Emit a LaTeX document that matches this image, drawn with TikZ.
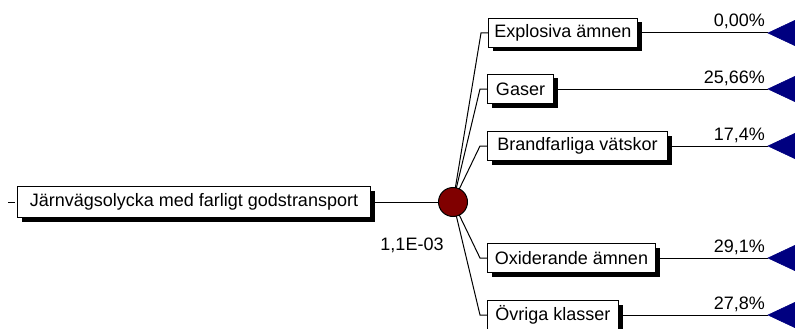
\documentclass[tikz,border=0pt]{standalone}
\usepackage{fontspec}
\setmainfont{Liberation Sans}
\usetikzlibrary{shadows}
\definecolor{chance}{HTML}{800000}
\definecolor{endnode}{HTML}{000080}
\tikzset{
  every node/.style={font=\fontsize{18}{20}\selectfont},
  box/.style={draw=black, line width=1pt, fill=white, minimum height=29pt,
    inner xsep=5pt, inner ysep=0pt, anchor=west,
    drop shadow={shadow xshift=4pt, shadow yshift=-4pt, fill=black, opacity=1}},
  wire/.style={draw=black, line width=1pt},
  prob/.style={anchor=base east, inner sep=0pt},
  leaf/.style={fill=endnode, draw=endnode, line width=0.6pt},
}
\begin{document}
\begin{tikzpicture}[x=1pt, y=-1pt]
  \useasboundingbox (0,0) rectangle (795,329);
  \clip (0,0) rectangle (795,329);

  % root event
  \node[box, minimum width=353pt, minimum height=31pt] (root) at (17,202)
    {Järnvägsolycka med farligt godstransport};
  \coordinate (tick) at (8,202);
  \draw[wire, shorten >=2pt] (tick) -- (root.west);

  % chance node
  \coordinate (cc) at (453,202);

  % branches
  \node[box, minimum width=149pt] (b1) at (488,33) {Explosiva ämnen};
  \node[box, minimum width=66pt]  (b2) at (487,89) {Gaser};
  \node[box, minimum width=180pt] (b3) at (487,146) {Brandfarliga vätskor};
  \node[box, minimum width=168pt] (b4) at (487,258) {Oxiderande ämnen};
  \node[box, minimum width=131pt] (b5) at (487,315) {Övriga klasser};

  \draw[wire] (root.east) -- (cc);
  \foreach \b in {b1,b2,b3,b4,b5}{
    \draw[wire] (cc) -- ([xshift=-7pt]\b.west) -- (\b.west);
  }

  \node[circle, draw=black, line width=1pt, fill=chance, minimum size=29pt, inner sep=0pt] (c) at (cc) {};
  \node[anchor=base, inner sep=0pt] (pv) at (412,250) {1,1E-03};

  % terminal triangles and probabilities
  \foreach \b/\p in {b1/{0,00\%}, b2/{25,66\%}, b3/{17,4\%}, b4/{29,1\%}, b5/{27,8\%}}{
    \coordinate (t\b) at (768,0 |- \b.west);
    \draw[wire] (\b.east) -- (t\b);
    \fill[leaf] (t\b) -- ++(32,-15) -- ++(0,30) -- cycle;
    \node[prob] at ([xshift=-3pt,yshift=6pt]t\b) {\p};
  }
\end{tikzpicture}
\end{document}
